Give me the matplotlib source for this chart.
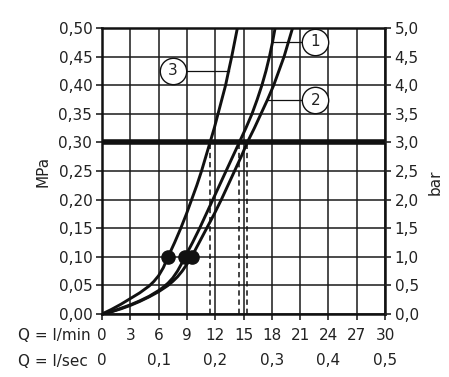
import numpy as np
import matplotlib
matplotlib.use("Agg")
import matplotlib.pyplot as plt

plt.rcParams['font.family'] = ['DejaVu Sans']
plt.rcParams['font.size'] = 11

# curves: flow Q [l/min] vs pressure [MPa]
q1 = [0, 1, 2, 3, 4, 5, 6, 6.5, 7, 7.5, 8, 8.4, 8.8, 9.6, 10.35, 11.05, 11.75, 12.45,
      13.15, 13.85, 14.55, 15.25, 15.9, 16.45, 16.95, 17.38, 17.75, 18.07, 18.35]
p1 = [0, 0.004, 0.01, 0.016, 0.023, 0.031, 0.041, 0.047, 0.054, 0.063, 0.075, 0.087, 0.1,
      0.125, 0.15, 0.175, 0.2, 0.225, 0.25, 0.275, 0.3, 0.325, 0.35, 0.375, 0.4, 0.425,
      0.45, 0.475, 0.5]
q2 = [0, 1, 2, 3, 4, 5, 6, 7, 7.5, 8, 8.5, 9, 9.5, 10.3, 11.1, 11.9, 12.65, 13.35,
      14.05, 14.75, 15.4, 16.15, 16.85, 17.55, 18.2, 18.75, 19.3, 19.75, 20.2]
p2 = [0, 0.004, 0.009, 0.015, 0.022, 0.03, 0.039, 0.05, 0.057, 0.065, 0.075, 0.087, 0.1,
      0.125, 0.15, 0.175, 0.2, 0.225, 0.25, 0.275, 0.3, 0.325, 0.35, 0.375, 0.4, 0.425,
      0.45, 0.475, 0.5]
q3 = [0, 1, 2, 3, 4, 5, 5.5, 6, 6.5, 7, 7.7, 8.35, 8.95, 9.5, 10.05, 10.55, 11.0,
      11.45, 11.9, 12.3, 12.7, 13.1, 13.42, 13.75, 14.05, 14.35]
p3 = [0, 0.008, 0.017, 0.027, 0.037, 0.049, 0.057, 0.067, 0.081, 0.1, 0.125, 0.15,
      0.175, 0.2, 0.225, 0.25, 0.275, 0.3, 0.325, 0.35, 0.375, 0.4, 0.425, 0.45,
      0.475, 0.5]

curve_names = ['1', '2', '3']
label_q = [22.6, 22.6, 7.5]
label_p = [0.476, 0.374, 0.425]

p_nominal = 0.3   # thick line
p_dot = 0.1       # dots on the curves

q_ticks = np.arange(0, 31, 3)
sec_ticks = [0, 0.1, 0.2, 0.3, 0.4, 0.5]
mpa_ticks = np.arange(0, 0.501, 0.05)
bar_ticks = np.arange(0, 5.01, 0.5)

fig = plt.figure(figsize=(4.49, 3.77), dpi=100)
ax = fig.add_axes([0.2272, 0.1671, 0.6303, 0.7586])

ax.set_xlim(0, 30)
ax.set_ylim(0, 0.5)
ax.set_xticks(q_ticks)
ax.set_xticklabels([str(q) for q in q_ticks])
ax.set_yticks(mpa_ticks)
ax.set_yticklabels([('%.2f' % v).replace('.', ',') for v in mpa_ticks])
ax.grid(True, color='#1a1a1a', linewidth=1.1)
ax.set_axisbelow(True)
for s in ax.spines.values():
    s.set_linewidth(1.8)
    s.set_color('#111111')
ax.tick_params(axis='x', length=4, width=1.2, pad=6, colors='#222222')
ax.tick_params(axis='y', length=4, width=1.2, pad=3, colors='#222222')
ax.set_ylabel('MPa', labelpad=6, color='#222222')

ax.axhline(p_nominal, color='#111111', linewidth=4.0, zorder=3)

curves = [(q1, p1), (q2, p2), (q3, p3)]
for (q, p), name, lq, lp in zip(curves, curve_names, label_q, label_p):
    ax.plot(q, p, color='#111111', linewidth=2.1, zorder=4,
            solid_capstyle='round', solid_joinstyle='round')
    # dashed drop line where the curve meets the thick line
    qn = np.interp(p_nominal, p, q)
    ax.plot([qn, qn], [0, p_nominal], color='#111111', linewidth=1.1,
            linestyle=(0, (3.5, 2.5)), zorder=3)
    # dot
    qd = np.interp(p_dot, p, q)
    ax.plot(qd, p_dot, 'o', color='#111111', markersize=9.5, zorder=5)
    # leader and circled number
    ql = np.interp(lp, p, q)
    ax.plot([ql, lq], [lp, lp], color='#111111', linewidth=0.9, zorder=5)
    ax.plot(lq, lp, 'o', markersize=19, markerfacecolor='white',
            markeredgecolor='#111111', markeredgewidth=1.0, zorder=6, clip_on=False)
    ax.text(lq, lp, name, ha='center', va='center', fontsize=11,
            color='#222222', zorder=7)

# right axis in bar
ax2 = ax.twinx()
ax2.set_ylim(0, 5)
ax2.set_yticks(bar_ticks)
ax2.set_yticklabels([('%.1f' % v).replace('.', ',') for v in bar_ticks])
ax2.tick_params(axis='y', length=4, width=1.2, pad=3, colors='#222222')
ax2.set_ylabel('bar', rotation=90, color='#222222')
ax2.yaxis.set_label_coords(1.15, 0.46)
for s in ax2.spines.values():
    s.set_visible(False)

# second row: l/sec
sec = ax.secondary_xaxis(-0.125, functions=(lambda q: q / 60.0, lambda s: s * 60.0))
sec.set_xticks(sec_ticks)
sec.set_xticklabels(['0'] + [('%.1f' % v).replace('.', ',') for v in sec_ticks[1:]])
sec.tick_params(length=0, pad=2, colors='#222222')
sec.spines['bottom'].set_visible(False)

fig.text(0.04, 0.111, 'Q = l/min', ha='left', va='center', color='#222222')
fig.text(0.04, 0.042, 'Q = l/sec', ha='left', va='center', color='#222222')

fig.savefig('out.png', dpi=100)
